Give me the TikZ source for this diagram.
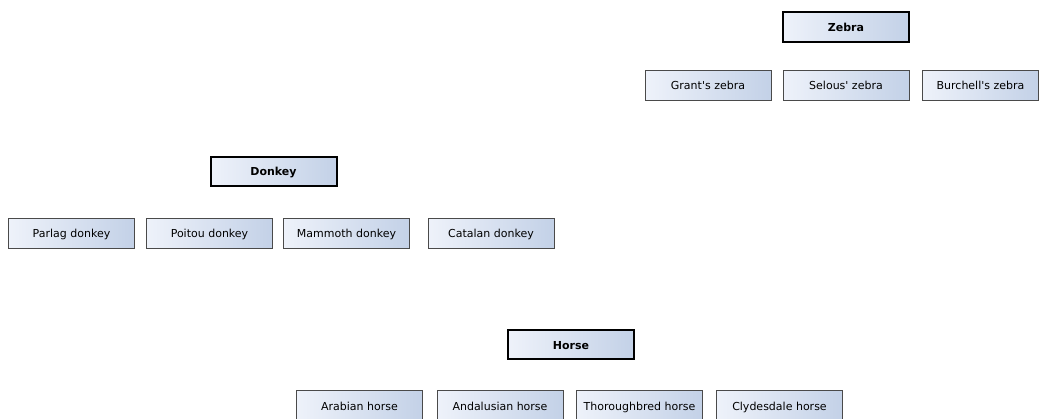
\documentclass[tikz,border=0pt]{standalone}
\usepackage{fontspec}
\setmainfont{DejaVu Sans}
\usepackage{tikz}
\definecolor{boxleft}{HTML}{EEF2FA}
\definecolor{boxright}{HTML}{C3D1E7}
\definecolor{boxline}{HTML}{4A4A4A}
\begin{document}
\begin{tikzpicture}[x=1pt,y=-1pt,
  breed/.style={draw=boxline,line width=0.9pt,left color=boxleft,right color=boxright,
    minimum width=126pt,minimum height=30pt,inner sep=0pt,text height=10pt,text depth=1pt,
    font=\fontsize{11}{13}\selectfont},
  family/.style={breed,draw=black,line width=2pt,font=\fontsize{11}{13}\selectfont\bfseries}]
\useasboundingbox (0,0) rectangle (1039,419);
\node [family] (zebra) at (846,27) {Zebra};
\node [breed] (grant) at (708,85.5) {Grant\textquotesingle s zebra};
\node [breed] (selous) at (846,85.5) {Selous\textquotesingle\ zebra};
\node [breed,minimum width=116pt] (burchell) at (980.5,85.5) {Burchell\textquotesingle s zebra};
\node [family,minimum height=29pt] (donkey) at (273.5,171.5) {Donkey};
\node [breed] (parlag) at (71.5,233.5) {Parlag donkey};
\node [breed] (poitou) at (209.5,233.5) {Poitou donkey};
\node [breed] (mammoth) at (346.5,233.5) {Mammoth donkey};
\node [breed] (catalan) at (491,233.5) {Catalan donkey};
\node [family,minimum height=29pt] (horse) at (571,345) {Horse};
\node [breed] (arabian) at (359.5,405.5) {Arabian horse};
\node [breed] (andalusian) at (500,405.5) {Andalusian horse};
\node [breed] (thoroughbred) at (639.5,405.5) {Thoroughbred horse};
\node [breed] (clydesdale) at (779.5,405.5) {Clydesdale horse};
\end{tikzpicture}
\end{document}
